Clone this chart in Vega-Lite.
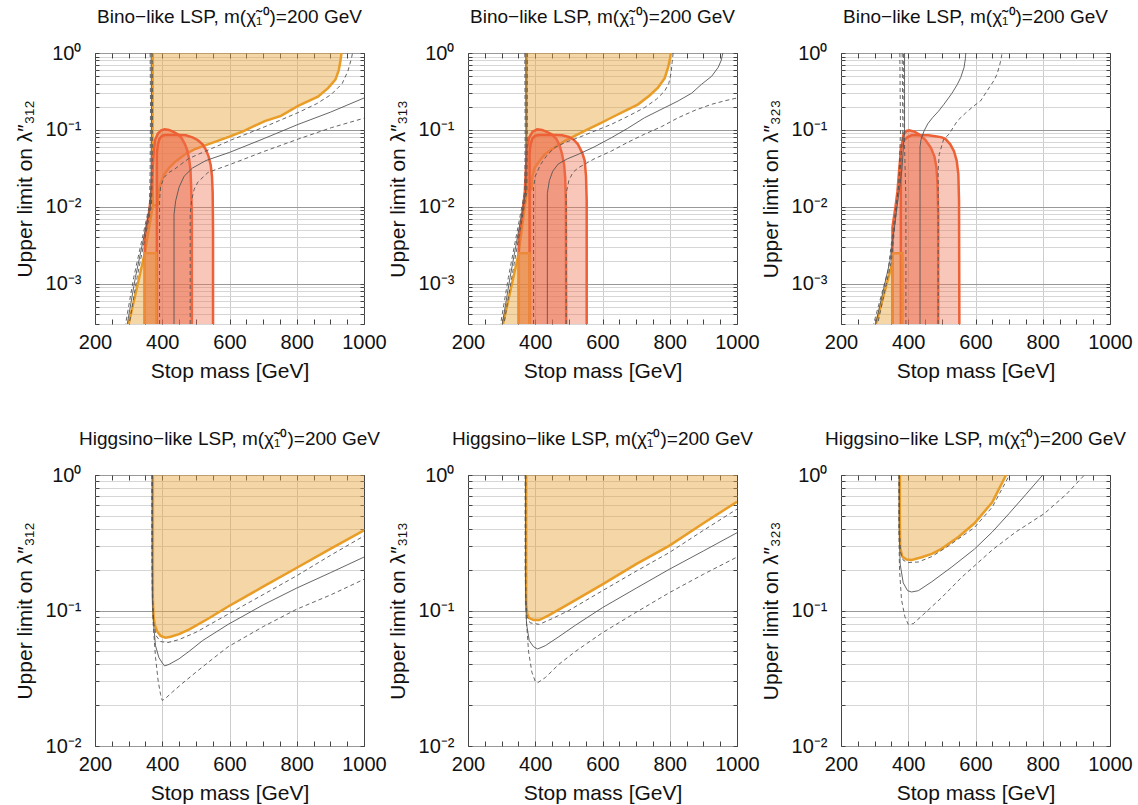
{
"$schema": "https://vega.github.io/schema/vega-lite/v6.json",
"background": "white",
"padding": {"left": 13, "top": 7, "right": 0, "bottom": 0},
"config": {
  "font": "Liberation Sans",
  "view": {"stroke": "#444444", "strokeWidth": 1},
  "axis": {"labelFontSize": 20, "titleFontSize": 21, "titleFontWeight": "normal", "labelColor": "#111111", "titleColor": "#111111", "tickColor": "#444444", "domain": false, "labelOverlap": false, "labelBound": false, "labelFlush": false},
  "title": {"fontSize": 19, "fontWeight": "normal", "color": "#111111", "offset": 16}
},
"datasets": {"d": [
{"p":1,"s":"of","m":372,"l":1},{"p":1,"s":"of","m":371.5,"l":0.3},{"p":1,"s":"of","m":371,"l":0.05},{"p":1,"s":"of","m":372,"l":0.0105},{"p":1,"s":"of","m":348,"l":0.0025},{"p":1,"s":"of","m":300,"l":0.0003},{"p":1,"s":"of","m":386,"l":0.0003},{"p":1,"s":"of","m":386,"l":0.0105},{"p":1,"s":"of","m":388,"l":0.014},{"p":1,"s":"of","m":395,"l":0.02},{"p":1,"s":"of","m":405,"l":0.026},{"p":1,"s":"of","m":420,"l":0.032},{"p":1,"s":"of","m":437,"l":0.038},{"p":1,"s":"of","m":470,"l":0.049},{"p":1,"s":"of","m":500,"l":0.057},{"p":1,"s":"of","m":540,"l":0.066},{"p":1,"s":"of","m":600,"l":0.082},{"p":1,"s":"of","m":640,"l":0.096},{"p":1,"s":"of","m":705,"l":0.13},{"p":1,"s":"of","m":753,"l":0.152},{"p":1,"s":"of","m":804,"l":0.205},{"p":1,"s":"of","m":863,"l":0.27},{"p":1,"s":"of","m":893,"l":0.35},{"p":1,"s":"of","m":915,"l":0.45},{"p":1,"s":"of","m":925,"l":0.6},{"p":1,"s":"of","m":930,"l":0.8},{"p":1,"s":"of","m":933,"l":1},
{"p":1,"s":"ol1","m":372,"l":1},{"p":1,"s":"ol1","m":371.5,"l":0.3},{"p":1,"s":"ol1","m":371,"l":0.05},{"p":1,"s":"ol1","m":372,"l":0.0105},{"p":1,"s":"ol1","m":348,"l":0.0025},{"p":1,"s":"ol1","m":300,"l":0.0003},
{"p":1,"s":"ol2","m":372,"l":0.0105},{"p":1,"s":"ol2","m":386,"l":0.0105},{"p":1,"s":"ol2","m":388,"l":0.014},{"p":1,"s":"ol2","m":395,"l":0.02},{"p":1,"s":"ol2","m":405,"l":0.026},{"p":1,"s":"ol2","m":420,"l":0.032},{"p":1,"s":"ol2","m":437,"l":0.038},{"p":1,"s":"ol2","m":470,"l":0.049},{"p":1,"s":"ol2","m":500,"l":0.057},{"p":1,"s":"ol2","m":540,"l":0.066},{"p":1,"s":"ol2","m":600,"l":0.082},{"p":1,"s":"ol2","m":640,"l":0.096},{"p":1,"s":"ol2","m":705,"l":0.13},{"p":1,"s":"ol2","m":753,"l":0.152},{"p":1,"s":"ol2","m":804,"l":0.205},{"p":1,"s":"ol2","m":863,"l":0.27},{"p":1,"s":"ol2","m":893,"l":0.35},{"p":1,"s":"ol2","m":915,"l":0.45},{"p":1,"s":"ol2","m":925,"l":0.6},{"p":1,"s":"ol2","m":930,"l":0.8},{"p":1,"s":"ol2","m":933,"l":1},
{"p":1,"s":"ra","m":348,"l":0.0003},{"p":1,"s":"ra","m":348,"l":0.004},{"p":1,"s":"ra","m":360,"l":0.008},{"p":1,"s":"ra","m":368,"l":0.016},{"p":1,"s":"ra","m":371,"l":0.03},{"p":1,"s":"ra","m":375,"l":0.055},{"p":1,"s":"ra","m":379,"l":0.075},{"p":1,"s":"ra","m":387,"l":0.09},{"p":1,"s":"ra","m":397,"l":0.099},{"p":1,"s":"ra","m":407,"l":0.102},{"p":1,"s":"ra","m":420,"l":0.1},{"p":1,"s":"ra","m":432,"l":0.095},{"p":1,"s":"ra","m":447,"l":0.087},{"p":1,"s":"ra","m":457,"l":0.079},{"p":1,"s":"ra","m":467,"l":0.066},{"p":1,"s":"ra","m":474,"l":0.055},{"p":1,"s":"ra","m":480,"l":0.042},{"p":1,"s":"ra","m":484,"l":0.03},{"p":1,"s":"ra","m":486,"l":0.018},{"p":1,"s":"ra","m":488,"l":0.008},{"p":1,"s":"ra","m":488,"l":0.0003},
{"p":1,"s":"rb","m":384,"l":0.0003},{"p":1,"s":"rb","m":384,"l":0.05},{"p":1,"s":"rb","m":387,"l":0.065},{"p":1,"s":"rb","m":392,"l":0.077},{"p":1,"s":"rb","m":400,"l":0.084},{"p":1,"s":"rb","m":410,"l":0.086},{"p":1,"s":"rb","m":450,"l":0.086},{"p":1,"s":"rb","m":470,"l":0.085},{"p":1,"s":"rb","m":490,"l":0.08},{"p":1,"s":"rb","m":505,"l":0.074},{"p":1,"s":"rb","m":520,"l":0.065},{"p":1,"s":"rb","m":530,"l":0.055},{"p":1,"s":"rb","m":538,"l":0.045},{"p":1,"s":"rb","m":544,"l":0.035},{"p":1,"s":"rb","m":548,"l":0.025},{"p":1,"s":"rb","m":550,"l":0.015},{"p":1,"s":"rb","m":551,"l":0.005},{"p":1,"s":"rb","m":551,"l":0.0003},
{"p":1,"s":"rr","m":348,"l":0.0003},{"p":1,"s":"rr","m":348,"l":0.0025},{"p":1,"s":"rr","m":382,"l":0.0025},{"p":1,"s":"rr","m":382,"l":0.0003},
{"p":1,"s":"gd1","m":364,"l":1},{"p":1,"s":"gd1","m":365,"l":0.2},{"p":1,"s":"gd1","m":364,"l":0.03},{"p":1,"s":"gd1","m":362,"l":0.0105},{"p":1,"s":"gd1","m":315,"l":0.0012},{"p":1,"s":"gd1","m":291,"l":0.0003},
{"p":1,"s":"gs1","m":367,"l":1},{"p":1,"s":"gs1","m":368,"l":0.2},{"p":1,"s":"gs1","m":367,"l":0.03},{"p":1,"s":"gs1","m":365,"l":0.0105},{"p":1,"s":"gs1","m":320,"l":0.0012},{"p":1,"s":"gs1","m":296,"l":0.0003},
{"p":1,"s":"gd2","m":370,"l":1},{"p":1,"s":"gd2","m":371,"l":0.2},{"p":1,"s":"gd2","m":370,"l":0.03},{"p":1,"s":"gd2","m":368,"l":0.0105},{"p":1,"s":"gd2","m":325,"l":0.0012},{"p":1,"s":"gd2","m":302,"l":0.0003},
{"p":1,"s":"gd3","m":392,"l":0.0003},{"p":1,"s":"gd3","m":392,"l":0.012},{"p":1,"s":"gd3","m":395,"l":0.018},{"p":1,"s":"gd3","m":405,"l":0.024},{"p":1,"s":"gd3","m":420,"l":0.028},{"p":1,"s":"gd3","m":437,"l":0.031},{"p":1,"s":"gd3","m":477,"l":0.042},{"p":1,"s":"gd3","m":506,"l":0.048},{"p":1,"s":"gd3","m":550,"l":0.058},{"p":1,"s":"gd3","m":605,"l":0.074},{"p":1,"s":"gd3","m":705,"l":0.11},{"p":1,"s":"gd3","m":804,"l":0.168},{"p":1,"s":"gd3","m":860,"l":0.22},{"p":1,"s":"gd3","m":903,"l":0.29},{"p":1,"s":"gd3","m":935,"l":0.4},{"p":1,"s":"gd3","m":952,"l":0.58},{"p":1,"s":"gd3","m":962,"l":0.83},{"p":1,"s":"gd3","m":966,"l":1},
{"p":1,"s":"gs2","m":435,"l":0.0003},{"p":1,"s":"gs2","m":435,"l":0.008},{"p":1,"s":"gs2","m":440,"l":0.012},{"p":1,"s":"gs2","m":450,"l":0.018},{"p":1,"s":"gs2","m":465,"l":0.025},{"p":1,"s":"gs2","m":490,"l":0.032},{"p":1,"s":"gs2","m":530,"l":0.04},{"p":1,"s":"gs2","m":600,"l":0.051},{"p":1,"s":"gs2","m":705,"l":0.078},{"p":1,"s":"gs2","m":804,"l":0.118},{"p":1,"s":"gs2","m":900,"l":0.17},{"p":1,"s":"gs2","m":1000,"l":0.26},
{"p":1,"s":"gd4","m":483,"l":0.0003},{"p":1,"s":"gd4","m":483,"l":0.008},{"p":1,"s":"gd4","m":487,"l":0.012},{"p":1,"s":"gd4","m":495,"l":0.017},{"p":1,"s":"gd4","m":506,"l":0.021},{"p":1,"s":"gd4","m":536,"l":0.028},{"p":1,"s":"gd4","m":605,"l":0.036},{"p":1,"s":"gd4","m":705,"l":0.053},{"p":1,"s":"gd4","m":804,"l":0.076},{"p":1,"s":"gd4","m":903,"l":0.107},{"p":1,"s":"gd4","m":1000,"l":0.142},

{"p":2,"s":"of","m":375,"l":1},{"p":2,"s":"of","m":374,"l":0.3},{"p":2,"s":"of","m":374,"l":0.05},{"p":2,"s":"of","m":375,"l":0.016},{"p":2,"s":"of","m":350,"l":0.0024},{"p":2,"s":"of","m":304,"l":0.0003},{"p":2,"s":"of","m":389,"l":0.0003},{"p":2,"s":"of","m":389,"l":0.017},{"p":2,"s":"of","m":390,"l":0.02},{"p":2,"s":"of","m":392,"l":0.025},{"p":2,"s":"of","m":398,"l":0.032},{"p":2,"s":"of","m":410,"l":0.038},{"p":2,"s":"of","m":428,"l":0.048},{"p":2,"s":"of","m":455,"l":0.058},{"p":2,"s":"of","m":488,"l":0.072},{"p":2,"s":"of","m":547,"l":0.097},{"p":2,"s":"of","m":590,"l":0.12},{"p":2,"s":"of","m":626,"l":0.144},{"p":2,"s":"of","m":670,"l":0.18},{"p":2,"s":"of","m":706,"l":0.215},{"p":2,"s":"of","m":740,"l":0.28},{"p":2,"s":"of","m":765,"l":0.355},{"p":2,"s":"of","m":785,"l":0.47},{"p":2,"s":"of","m":795,"l":0.65},{"p":2,"s":"of","m":801,"l":0.85},{"p":2,"s":"of","m":803,"l":1},
{"p":2,"s":"ol1","m":375,"l":1},{"p":2,"s":"ol1","m":374,"l":0.3},{"p":2,"s":"ol1","m":374,"l":0.05},{"p":2,"s":"ol1","m":375,"l":0.016},{"p":2,"s":"ol1","m":350,"l":0.0024},{"p":2,"s":"ol1","m":304,"l":0.0003},
{"p":2,"s":"ol2","m":375,"l":0.016},{"p":2,"s":"ol2","m":389,"l":0.017},{"p":2,"s":"ol2","m":390,"l":0.02},{"p":2,"s":"ol2","m":392,"l":0.025},{"p":2,"s":"ol2","m":398,"l":0.032},{"p":2,"s":"ol2","m":410,"l":0.038},{"p":2,"s":"ol2","m":428,"l":0.048},{"p":2,"s":"ol2","m":455,"l":0.058},{"p":2,"s":"ol2","m":488,"l":0.072},{"p":2,"s":"ol2","m":547,"l":0.097},{"p":2,"s":"ol2","m":590,"l":0.12},{"p":2,"s":"ol2","m":626,"l":0.144},{"p":2,"s":"ol2","m":670,"l":0.18},{"p":2,"s":"ol2","m":706,"l":0.215},{"p":2,"s":"ol2","m":740,"l":0.28},{"p":2,"s":"ol2","m":765,"l":0.355},{"p":2,"s":"ol2","m":785,"l":0.47},{"p":2,"s":"ol2","m":795,"l":0.65},{"p":2,"s":"ol2","m":801,"l":0.85},{"p":2,"s":"ol2","m":803,"l":1},
{"p":2,"s":"ra","m":351,"l":0.0003},{"p":2,"s":"ra","m":351,"l":0.004},{"p":2,"s":"ra","m":362,"l":0.008},{"p":2,"s":"ra","m":369,"l":0.016},{"p":2,"s":"ra","m":372,"l":0.03},{"p":2,"s":"ra","m":376,"l":0.06},{"p":2,"s":"ra","m":382,"l":0.08},{"p":2,"s":"ra","m":392,"l":0.095},{"p":2,"s":"ra","m":406,"l":0.102},{"p":2,"s":"ra","m":420,"l":0.1},{"p":2,"s":"ra","m":433,"l":0.095},{"p":2,"s":"ra","m":450,"l":0.087},{"p":2,"s":"ra","m":463,"l":0.076},{"p":2,"s":"ra","m":473,"l":0.062},{"p":2,"s":"ra","m":480,"l":0.048},{"p":2,"s":"ra","m":486,"l":0.035},{"p":2,"s":"ra","m":489,"l":0.024},{"p":2,"s":"ra","m":491,"l":0.012},{"p":2,"s":"ra","m":492,"l":0.0003},
{"p":2,"s":"rb","m":383,"l":0.0003},{"p":2,"s":"rb","m":383,"l":0.05},{"p":2,"s":"rb","m":386,"l":0.065},{"p":2,"s":"rb","m":392,"l":0.078},{"p":2,"s":"rb","m":400,"l":0.084},{"p":2,"s":"rb","m":412,"l":0.086},{"p":2,"s":"rb","m":460,"l":0.086},{"p":2,"s":"rb","m":480,"l":0.085},{"p":2,"s":"rb","m":500,"l":0.081},{"p":2,"s":"rb","m":515,"l":0.074},{"p":2,"s":"rb","m":527,"l":0.065},{"p":2,"s":"rb","m":540,"l":0.05},{"p":2,"s":"rb","m":547,"l":0.04},{"p":2,"s":"rb","m":551,"l":0.025},{"p":2,"s":"rb","m":553,"l":0.012},{"p":2,"s":"rb","m":553,"l":0.0003},
{"p":2,"s":"rr","m":351,"l":0.0003},{"p":2,"s":"rr","m":351,"l":0.0025},{"p":2,"s":"rr","m":383,"l":0.0025},{"p":2,"s":"rr","m":383,"l":0.0003},
{"p":2,"s":"gd1","m":369,"l":1},{"p":2,"s":"gd1","m":370,"l":0.1},{"p":2,"s":"gd1","m":369,"l":0.016},{"p":2,"s":"gd1","m":320,"l":0.0012},{"p":2,"s":"gd1","m":297,"l":0.0003},
{"p":2,"s":"gs1","m":372,"l":1},{"p":2,"s":"gs1","m":373,"l":0.1},{"p":2,"s":"gs1","m":372,"l":0.016},{"p":2,"s":"gs1","m":325,"l":0.0012},{"p":2,"s":"gs1","m":302,"l":0.0003},
{"p":2,"s":"gd2","m":376,"l":1},{"p":2,"s":"gd2","m":376,"l":0.1},{"p":2,"s":"gd2","m":375,"l":0.016},{"p":2,"s":"gd2","m":330,"l":0.0012},{"p":2,"s":"gd2","m":307,"l":0.0003},
{"p":2,"s":"gd3","m":395,"l":0.0003},{"p":2,"s":"gd3","m":395,"l":0.0178},{"p":2,"s":"gd3","m":400,"l":0.025},{"p":2,"s":"gd3","m":415,"l":0.035},{"p":2,"s":"gd3","m":435,"l":0.047},{"p":2,"s":"gd3","m":458,"l":0.059},{"p":2,"s":"gd3","m":490,"l":0.069},{"p":2,"s":"gd3","m":527,"l":0.079},{"p":2,"s":"gd3","m":575,"l":0.096},{"p":2,"s":"gd3","m":626,"l":0.118},{"p":2,"s":"gd3","m":675,"l":0.15},{"p":2,"s":"gd3","m":725,"l":0.195},{"p":2,"s":"gd3","m":760,"l":0.25},{"p":2,"s":"gd3","m":785,"l":0.32},{"p":2,"s":"gd3","m":797,"l":0.4},{"p":2,"s":"gd3","m":804,"l":0.55},{"p":2,"s":"gd3","m":807,"l":0.75},{"p":2,"s":"gd3","m":810,"l":1},
{"p":2,"s":"gs2","m":436,"l":0.0003},{"p":2,"s":"gs2","m":436,"l":0.015},{"p":2,"s":"gs2","m":442,"l":0.022},{"p":2,"s":"gs2","m":452,"l":0.029},{"p":2,"s":"gs2","m":468,"l":0.036},{"p":2,"s":"gs2","m":495,"l":0.042},{"p":2,"s":"gs2","m":527,"l":0.048},{"p":2,"s":"gs2","m":575,"l":0.06},{"p":2,"s":"gs2","m":626,"l":0.079},{"p":2,"s":"gs2","m":675,"l":0.105},{"p":2,"s":"gs2","m":725,"l":0.144},{"p":2,"s":"gs2","m":780,"l":0.19},{"p":2,"s":"gs2","m":825,"l":0.238},{"p":2,"s":"gs2","m":865,"l":0.3},{"p":2,"s":"gs2","m":894,"l":0.39},{"p":2,"s":"gs2","m":925,"l":0.5},{"p":2,"s":"gs2","m":944,"l":0.65},{"p":2,"s":"gs2","m":953,"l":0.8},{"p":2,"s":"gs2","m":958,"l":1},
{"p":2,"s":"gd4","m":492,"l":0.0003},{"p":2,"s":"gd4","m":492,"l":0.015},{"p":2,"s":"gd4","m":500,"l":0.022},{"p":2,"s":"gd4","m":512,"l":0.028},{"p":2,"s":"gd4","m":527,"l":0.032},{"p":2,"s":"gd4","m":575,"l":0.042},{"p":2,"s":"gd4","m":626,"l":0.053},{"p":2,"s":"gd4","m":675,"l":0.069},{"p":2,"s":"gd4","m":725,"l":0.088},{"p":2,"s":"gd4","m":775,"l":0.11},{"p":2,"s":"gd4","m":825,"l":0.144},{"p":2,"s":"gd4","m":875,"l":0.18},{"p":2,"s":"gd4","m":924,"l":0.215},{"p":2,"s":"gd4","m":965,"l":0.24},{"p":2,"s":"gd4","m":1000,"l":0.26},

{"p":3,"s":"of","m":304,"l":0.0003},{"p":3,"s":"of","m":353,"l":0.0019},{"p":3,"s":"of","m":353,"l":0.0003},
{"p":3,"s":"ol1","m":304,"l":0.0003},{"p":3,"s":"ol1","m":353,"l":0.0019},
{"p":3,"s":"ra","m":353,"l":0.0003},{"p":3,"s":"ra","m":353,"l":0.0054},{"p":3,"s":"ra","m":362,"l":0.01},{"p":3,"s":"ra","m":368,"l":0.016},{"p":3,"s":"ra","m":373,"l":0.03},{"p":3,"s":"ra","m":378,"l":0.053},{"p":3,"s":"ra","m":386,"l":0.088},{"p":3,"s":"ra","m":395,"l":0.097},{"p":3,"s":"ra","m":403,"l":0.099},{"p":3,"s":"ra","m":418,"l":0.095},{"p":3,"s":"ra","m":432,"l":0.088},{"p":3,"s":"ra","m":450,"l":0.075},{"p":3,"s":"ra","m":467,"l":0.059},{"p":3,"s":"ra","m":478,"l":0.045},{"p":3,"s":"ra","m":484,"l":0.032},{"p":3,"s":"ra","m":487,"l":0.02},{"p":3,"s":"ra","m":489,"l":0.008},{"p":3,"s":"ra","m":489,"l":0.0003},
{"p":3,"s":"rb","m":378,"l":0.0003},{"p":3,"s":"rb","m":378,"l":0.059},{"p":3,"s":"rb","m":385,"l":0.072},{"p":3,"s":"rb","m":398,"l":0.081},{"p":3,"s":"rb","m":410,"l":0.085},{"p":3,"s":"rb","m":460,"l":0.085},{"p":3,"s":"rb","m":485,"l":0.082},{"p":3,"s":"rb","m":500,"l":0.08},{"p":3,"s":"rb","m":511,"l":0.076},{"p":3,"s":"rb","m":525,"l":0.065},{"p":3,"s":"rb","m":536,"l":0.053},{"p":3,"s":"rb","m":544,"l":0.04},{"p":3,"s":"rb","m":549,"l":0.0266},{"p":3,"s":"rb","m":551,"l":0.012},{"p":3,"s":"rb","m":552,"l":0.0003},
{"p":3,"s":"rr","m":353,"l":0.0003},{"p":3,"s":"rr","m":353,"l":0.0025},{"p":3,"s":"rr","m":383,"l":0.0025},{"p":3,"s":"rr","m":383,"l":0.0003},
{"p":3,"s":"gd1","m":375,"l":1},{"p":3,"s":"gd1","m":376,"l":0.3},{"p":3,"s":"gd1","m":377,"l":0.1},{"p":3,"s":"gd1","m":372,"l":0.02},{"p":3,"s":"gd1","m":340,"l":0.0015},{"p":3,"s":"gd1","m":297,"l":0.0003},
{"p":3,"s":"gs1","m":389,"l":1},{"p":3,"s":"gs1","m":389,"l":0.3},{"p":3,"s":"gs1","m":389,"l":0.1},{"p":3,"s":"gs1","m":381,"l":0.03},{"p":3,"s":"gs1","m":346,"l":0.002},{"p":3,"s":"gs1","m":303,"l":0.0003},
{"p":3,"s":"gd2","m":382,"l":1},{"p":3,"s":"gd2","m":383,"l":0.3},{"p":3,"s":"gd2","m":384,"l":0.1},{"p":3,"s":"gd2","m":376,"l":0.03},{"p":3,"s":"gd2","m":350,"l":0.002},{"p":3,"s":"gd2","m":309,"l":0.0003},
{"p":3,"s":"gd3","m":393,"l":0.0003},{"p":3,"s":"gd3","m":393,"l":0.013},{"p":3,"s":"gd3","m":390,"l":0.04},{"p":3,"s":"gd3","m":388,"l":0.1},{"p":3,"s":"gd3","m":387,"l":0.3},{"p":3,"s":"gd3","m":386,"l":1},
{"p":3,"s":"gs2","m":435,"l":0.0003},{"p":3,"s":"gs2","m":435,"l":0.06},{"p":3,"s":"gs2","m":438,"l":0.075},{"p":3,"s":"gs2","m":447,"l":0.097},{"p":3,"s":"gs2","m":458,"l":0.12},{"p":3,"s":"gs2","m":472,"l":0.144},{"p":3,"s":"gs2","m":490,"l":0.175},{"p":3,"s":"gs2","m":506,"l":0.215},{"p":3,"s":"gs2","m":530,"l":0.3},{"p":3,"s":"gs2","m":546,"l":0.39},{"p":3,"s":"gs2","m":556,"l":0.48},{"p":3,"s":"gs2","m":566,"l":0.65},{"p":3,"s":"gs2","m":570,"l":0.85},{"p":3,"s":"gs2","m":571,"l":1},
{"p":3,"s":"gd4","m":489,"l":0.0003},{"p":3,"s":"gd4","m":489,"l":0.03},{"p":3,"s":"gd4","m":492,"l":0.048},{"p":3,"s":"gd4","m":505,"l":0.075},{"p":3,"s":"gd4","m":521,"l":0.088},{"p":3,"s":"gd4","m":546,"l":0.131},{"p":3,"s":"gd4","m":570,"l":0.165},{"p":3,"s":"gd4","m":595,"l":0.205},{"p":3,"s":"gd4","m":615,"l":0.238},{"p":3,"s":"gd4","m":640,"l":0.35},{"p":3,"s":"gd4","m":655,"l":0.44},{"p":3,"s":"gd4","m":664,"l":0.53},{"p":3,"s":"gd4","m":672,"l":0.7},{"p":3,"s":"gd4","m":676,"l":0.83},{"p":3,"s":"gd4","m":679,"l":1},

{"p":4,"s":"of","m":372,"l":1},{"p":4,"s":"of","m":372,"l":0.3},{"p":4,"s":"of","m":372,"l":0.124},{"p":4,"s":"of","m":374,"l":0.09},{"p":4,"s":"of","m":378,"l":0.078},{"p":4,"s":"of","m":385,"l":0.07},{"p":4,"s":"of","m":395,"l":0.065},{"p":4,"s":"of","m":410,"l":0.063},{"p":4,"s":"of","m":425,"l":0.064},{"p":4,"s":"of","m":450,"l":0.067},{"p":4,"s":"of","m":482,"l":0.073},{"p":4,"s":"of","m":540,"l":0.088},{"p":4,"s":"of","m":596,"l":0.107},{"p":4,"s":"of","m":700,"l":0.15},{"p":4,"s":"of","m":799,"l":0.206},{"p":4,"s":"of","m":900,"l":0.285},{"p":4,"s":"of","m":1000,"l":0.39},{"p":4,"s":"of","m":1000,"l":1},
{"p":4,"s":"ol2","m":372,"l":1},{"p":4,"s":"ol2","m":372,"l":0.3},{"p":4,"s":"ol2","m":372,"l":0.124},{"p":4,"s":"ol2","m":374,"l":0.09},{"p":4,"s":"ol2","m":378,"l":0.078},{"p":4,"s":"ol2","m":385,"l":0.07},{"p":4,"s":"ol2","m":395,"l":0.065},{"p":4,"s":"ol2","m":410,"l":0.063},{"p":4,"s":"ol2","m":425,"l":0.064},{"p":4,"s":"ol2","m":450,"l":0.067},{"p":4,"s":"ol2","m":482,"l":0.073},{"p":4,"s":"ol2","m":540,"l":0.088},{"p":4,"s":"ol2","m":596,"l":0.107},{"p":4,"s":"ol2","m":700,"l":0.15},{"p":4,"s":"ol2","m":799,"l":0.206},{"p":4,"s":"ol2","m":900,"l":0.285},{"p":4,"s":"ol2","m":1000,"l":0.39},
{"p":4,"s":"gd3","m":371,"l":1},{"p":4,"s":"gd3","m":371,"l":0.2},{"p":4,"s":"gd3","m":372,"l":0.11},{"p":4,"s":"gd3","m":375,"l":0.08},{"p":4,"s":"gd3","m":382,"l":0.065},{"p":4,"s":"gd3","m":395,"l":0.059},{"p":4,"s":"gd3","m":417,"l":0.058},{"p":4,"s":"gd3","m":450,"l":0.061},{"p":4,"s":"gd3","m":500,"l":0.069},{"p":4,"s":"gd3","m":596,"l":0.094},{"p":4,"s":"gd3","m":700,"l":0.131},{"p":4,"s":"gd3","m":799,"l":0.18},{"p":4,"s":"gd3","m":900,"l":0.255},{"p":4,"s":"gd3","m":1000,"l":0.355},
{"p":4,"s":"gs2","m":370,"l":1},{"p":4,"s":"gs2","m":370,"l":0.3},{"p":4,"s":"gs2","m":371,"l":0.12},{"p":4,"s":"gs2","m":374,"l":0.08},{"p":4,"s":"gs2","m":380,"l":0.055},{"p":4,"s":"gs2","m":390,"l":0.045},{"p":4,"s":"gs2","m":400,"l":0.041},{"p":4,"s":"gs2","m":407,"l":0.039},{"p":4,"s":"gs2","m":420,"l":0.04},{"p":4,"s":"gs2","m":450,"l":0.044},{"p":4,"s":"gs2","m":480,"l":0.05},{"p":4,"s":"gs2","m":520,"l":0.06},{"p":4,"s":"gs2","m":596,"l":0.079},{"p":4,"s":"gs2","m":700,"l":0.11},{"p":4,"s":"gs2","m":799,"l":0.146},{"p":4,"s":"gs2","m":900,"l":0.19},{"p":4,"s":"gs2","m":1000,"l":0.248},
{"p":4,"s":"gd4","m":369,"l":1},{"p":4,"s":"gd4","m":369,"l":0.3},{"p":4,"s":"gd4","m":370,"l":0.15},{"p":4,"s":"gd4","m":373,"l":0.08},{"p":4,"s":"gd4","m":380,"l":0.045},{"p":4,"s":"gd4","m":388,"l":0.03},{"p":4,"s":"gd4","m":395,"l":0.024},{"p":4,"s":"gd4","m":400,"l":0.0217},{"p":4,"s":"gd4","m":410,"l":0.0225},{"p":4,"s":"gd4","m":430,"l":0.025},{"p":4,"s":"gd4","m":460,"l":0.029},{"p":4,"s":"gd4","m":500,"l":0.035},{"p":4,"s":"gd4","m":550,"l":0.044},{"p":4,"s":"gd4","m":596,"l":0.054},{"p":4,"s":"gd4","m":700,"l":0.076},{"p":4,"s":"gd4","m":799,"l":0.102},{"p":4,"s":"gd4","m":900,"l":0.13},{"p":4,"s":"gd4","m":1000,"l":0.17},

{"p":5,"s":"of","m":373,"l":1},{"p":5,"s":"of","m":373,"l":0.3},{"p":5,"s":"of","m":373,"l":0.111},{"p":5,"s":"of","m":376,"l":0.095},{"p":5,"s":"of","m":382,"l":0.088},{"p":5,"s":"of","m":395,"l":0.085},{"p":5,"s":"of","m":412,"l":0.085},{"p":5,"s":"of","m":440,"l":0.092},{"p":5,"s":"of","m":500,"l":0.112},{"p":5,"s":"of","m":600,"l":0.156},{"p":5,"s":"of","m":700,"l":0.22},{"p":5,"s":"of","m":798,"l":0.3},{"p":5,"s":"of","m":900,"l":0.44},{"p":5,"s":"of","m":1000,"l":0.635},{"p":5,"s":"of","m":1000,"l":1},
{"p":5,"s":"ol2","m":373,"l":1},{"p":5,"s":"ol2","m":373,"l":0.3},{"p":5,"s":"ol2","m":373,"l":0.111},{"p":5,"s":"ol2","m":376,"l":0.095},{"p":5,"s":"ol2","m":382,"l":0.088},{"p":5,"s":"ol2","m":395,"l":0.085},{"p":5,"s":"ol2","m":412,"l":0.085},{"p":5,"s":"ol2","m":440,"l":0.092},{"p":5,"s":"ol2","m":500,"l":0.112},{"p":5,"s":"ol2","m":600,"l":0.156},{"p":5,"s":"ol2","m":700,"l":0.22},{"p":5,"s":"ol2","m":798,"l":0.3},{"p":5,"s":"ol2","m":900,"l":0.44},{"p":5,"s":"ol2","m":1000,"l":0.635},
{"p":5,"s":"gd3","m":372,"l":1},{"p":5,"s":"gd3","m":372,"l":0.12},{"p":5,"s":"gd3","m":376,"l":0.09},{"p":5,"s":"gd3","m":385,"l":0.081},{"p":5,"s":"gd3","m":412,"l":0.079},{"p":5,"s":"gd3","m":450,"l":0.087},{"p":5,"s":"gd3","m":500,"l":0.1},{"p":5,"s":"gd3","m":600,"l":0.14},{"p":5,"s":"gd3","m":700,"l":0.195},{"p":5,"s":"gd3","m":798,"l":0.267},{"p":5,"s":"gd3","m":900,"l":0.39},{"p":5,"s":"gd3","m":1000,"l":0.56},
{"p":5,"s":"gs2","m":371,"l":1},{"p":5,"s":"gs2","m":371,"l":0.15},{"p":5,"s":"gs2","m":374,"l":0.08},{"p":5,"s":"gs2","m":382,"l":0.06},{"p":5,"s":"gs2","m":395,"l":0.054},{"p":5,"s":"gs2","m":407,"l":0.052},{"p":5,"s":"gs2","m":430,"l":0.055},{"p":5,"s":"gs2","m":470,"l":0.064},{"p":5,"s":"gs2","m":520,"l":0.078},{"p":5,"s":"gs2","m":600,"l":0.105},{"p":5,"s":"gs2","m":700,"l":0.146},{"p":5,"s":"gs2","m":798,"l":0.201},{"p":5,"s":"gs2","m":900,"l":0.275},{"p":5,"s":"gs2","m":1000,"l":0.375},
{"p":5,"s":"gd4","m":370,"l":1},{"p":5,"s":"gd4","m":370,"l":0.2},{"p":5,"s":"gd4","m":373,"l":0.09},{"p":5,"s":"gd4","m":380,"l":0.05},{"p":5,"s":"gd4","m":390,"l":0.035},{"p":5,"s":"gd4","m":400,"l":0.03},{"p":5,"s":"gd4","m":407,"l":0.0293},{"p":5,"s":"gd4","m":430,"l":0.032},{"p":5,"s":"gd4","m":470,"l":0.04},{"p":5,"s":"gd4","m":520,"l":0.05},{"p":5,"s":"gd4","m":600,"l":0.0686},{"p":5,"s":"gd4","m":700,"l":0.097},{"p":5,"s":"gd4","m":798,"l":0.135},{"p":5,"s":"gd4","m":900,"l":0.185},{"p":5,"s":"gd4","m":1000,"l":0.248},

{"p":6,"s":"of","m":375,"l":1},{"p":6,"s":"of","m":375,"l":0.5},{"p":6,"s":"of","m":376,"l":0.29},{"p":6,"s":"of","m":382,"l":0.25},{"p":6,"s":"of","m":395,"l":0.238},{"p":6,"s":"of","m":410,"l":0.236},{"p":6,"s":"of","m":440,"l":0.247},{"p":6,"s":"of","m":470,"l":0.262},{"p":6,"s":"of","m":499,"l":0.285},{"p":6,"s":"of","m":550,"l":0.35},{"p":6,"s":"of","m":597,"l":0.44},{"p":6,"s":"of","m":650,"l":0.63},{"p":6,"s":"of","m":691,"l":1},
{"p":6,"s":"ol2","m":375,"l":1},{"p":6,"s":"ol2","m":375,"l":0.5},{"p":6,"s":"ol2","m":376,"l":0.29},{"p":6,"s":"ol2","m":382,"l":0.25},{"p":6,"s":"ol2","m":395,"l":0.238},{"p":6,"s":"ol2","m":410,"l":0.236},{"p":6,"s":"ol2","m":440,"l":0.247},{"p":6,"s":"ol2","m":470,"l":0.262},{"p":6,"s":"ol2","m":499,"l":0.285},{"p":6,"s":"ol2","m":550,"l":0.35},{"p":6,"s":"ol2","m":597,"l":0.44},{"p":6,"s":"ol2","m":650,"l":0.63},{"p":6,"s":"ol2","m":691,"l":1},
{"p":6,"s":"gd3","m":374,"l":1},{"p":6,"s":"gd3","m":374,"l":0.4},{"p":6,"s":"gd3","m":377,"l":0.27},{"p":6,"s":"gd3","m":385,"l":0.235},{"p":6,"s":"gd3","m":400,"l":0.226},{"p":6,"s":"gd3","m":430,"l":0.228},{"p":6,"s":"gd3","m":470,"l":0.25},{"p":6,"s":"gd3","m":520,"l":0.3},{"p":6,"s":"gd3","m":597,"l":0.41},{"p":6,"s":"gd3","m":650,"l":0.58},{"p":6,"s":"gd3","m":701,"l":1},
{"p":6,"s":"gs2","m":373,"l":1},{"p":6,"s":"gs2","m":373,"l":0.4},{"p":6,"s":"gs2","m":376,"l":0.22},{"p":6,"s":"gs2","m":385,"l":0.16},{"p":6,"s":"gs2","m":398,"l":0.14},{"p":6,"s":"gs2","m":410,"l":0.137},{"p":6,"s":"gs2","m":430,"l":0.14},{"p":6,"s":"gs2","m":470,"l":0.163},{"p":6,"s":"gs2","m":530,"l":0.21},{"p":6,"s":"gs2","m":597,"l":0.284},{"p":6,"s":"gs2","m":650,"l":0.38},{"p":6,"s":"gs2","m":700,"l":0.52},{"p":6,"s":"gs2","m":750,"l":0.72},{"p":6,"s":"gs2","m":800,"l":1},
{"p":6,"s":"gd4","m":372,"l":1},{"p":6,"s":"gd4","m":372,"l":0.4},{"p":6,"s":"gd4","m":374,"l":0.2},{"p":6,"s":"gd4","m":380,"l":0.12},{"p":6,"s":"gd4","m":390,"l":0.09},{"p":6,"s":"gd4","m":400,"l":0.079},{"p":6,"s":"gd4","m":415,"l":0.08},{"p":6,"s":"gd4","m":450,"l":0.096},{"p":6,"s":"gd4","m":500,"l":0.125},{"p":6,"s":"gd4","m":558,"l":0.175},{"p":6,"s":"gd4","m":650,"l":0.28},{"p":6,"s":"gd4","m":720,"l":0.38},{"p":6,"s":"gd4","m":805,"l":0.52},{"p":6,"s":"gd4","m":870,"l":0.72},{"p":6,"s":"gd4","m":924,"l":1}
]},
"data": {"name": "d"},
"columns": 3,
"spacing": {"row": 151, "column": 104},
"bounds": "flush",
"concat": [
{"title": "Bino−like LSP, m(χ̃₁⁰)=200 GeV", "width": 269, "height": 271,
 "transform": [{"filter": "datum.p==1"}],
 "resolve": {"axis": {"x": "independent", "y": "independent"}},
 "layer": [
  {"transform": [{"filter": "datum.s=='of'"}], "mark": {"type": "line", "fill": "#e9a53a", "fillOpacity": 0.45, "strokeOpacity": 0, "clip": true},
   "encoding": {"x": {"field": "m", "type": "quantitative", "scale": {"domain": [200, 1000], "nice": false}, "axis": {"orient": "bottom", "values": [200,250,300,350,400,450,500,550,600,650,700,750,800,850,900,950,1000], "format": "d", "labelExpr": "datum.value%200==0?datum.label:''", "title": "Stop mass [GeV]", "grid": true, "gridColor": "#cccccc", "gridOpacity": {"condition": {"test": "datum.value==400||datum.value==600||datum.value==800", "value": 1}, "value": 0}, "tickSize": -5, "labelPadding": 13, "titlePadding": 8}},
    "y": {"field": "l", "type": "quantitative", "scale": {"type": "log", "domain": [0.0003, 1], "nice": false}, "axis": {"orient": "left", "values": [0.0003,0.0004,0.0005,0.0006,0.0007,0.0008,0.0009,0.001,0.002,0.003,0.004,0.005,0.006,0.007,0.008,0.009,0.01,0.02,0.03,0.04,0.05,0.06,0.07,0.08,0.09,0.1,0.2,0.3,0.4,0.5,0.6,0.7,0.8,0.9,1], "labelExpr": "datum.value==1?'10⁰':datum.value==0.1?'10⁻¹':datum.value==0.01?'10⁻²':datum.value==0.001?'10⁻³':''", "title": "Upper limit on λ″₃₁₂", "grid": true, "gridColor": {"condition": {"test": "datum.value==1||datum.value==0.1||datum.value==0.01||datum.value==0.001", "value": "#999999"}, "value": "#d6d6d6"}, "tickSize": -4, "labelPadding": 18, "titlePadding": 10}},
    "order": {"value": null}}},
  {"transform": [{"filter": "indexof(datum.s,'ol')==0"}], "mark": {"type": "line", "stroke": "#e99c26", "strokeWidth": 2.5, "clip": true},
   "encoding": {"x": {"field": "m", "type": "quantitative", "axis": null}, "y": {"field": "l", "type": "quantitative", "axis": null}, "detail": {"field": "s"}, "order": {"value": null}}},
  {"transform": [{"filter": "datum.s=='ra'"}], "mark": {"type": "line", "fill": "#ea6a44", "fillOpacity": 0.5, "stroke": "#ee6035", "strokeWidth": 2.5, "clip": true},
   "encoding": {"x": {"field": "m", "type": "quantitative", "axis": null}, "y": {"field": "l", "type": "quantitative", "axis": null}, "order": {"value": null}}},
  {"transform": [{"filter": "datum.s=='rb'"}], "mark": {"type": "line", "fill": "#ef7452", "fillOpacity": 0.4, "stroke": "#ee6035", "strokeWidth": 2.5, "clip": true},
   "encoding": {"x": {"field": "m", "type": "quantitative", "axis": null}, "y": {"field": "l", "type": "quantitative", "axis": null}, "order": {"value": null}}},
  {"transform": [{"filter": "datum.s=='rr'"}], "mark": {"type": "line", "fill": "#e8903a", "fillOpacity": 0.35, "stroke": "#ec8a3a", "strokeWidth": 2.5, "clip": true},
   "encoding": {"x": {"field": "m", "type": "quantitative", "axis": null}, "y": {"field": "l", "type": "quantitative", "axis": null}, "order": {"value": null}}},
  {"transform": [{"filter": "indexof(datum.s,'gd')==0"}], "mark": {"type": "line", "stroke": "#555555", "strokeWidth": 0.9, "strokeDash": [4, 3], "clip": true},
   "encoding": {"x": {"field": "m", "type": "quantitative", "axis": null}, "y": {"field": "l", "type": "quantitative", "axis": null}, "detail": {"field": "s"}, "order": {"value": null}}},
  {"transform": [{"filter": "indexof(datum.s,'gs')==0"}], "mark": {"type": "line", "stroke": "#555555", "strokeWidth": 0.9, "clip": true},
   "encoding": {"x": {"field": "m", "type": "quantitative", "axis": {"orient": "top", "values": [200,250,300,350,400,450,500,550,600,650,700,750,800,850,900,950,1000], "labels": false, "title": null, "grid": false, "tickSize": -5}},
    "y": {"field": "l", "type": "quantitative", "axis": {"orient": "right", "values": [0.0003,0.0004,0.0005,0.0006,0.0007,0.0008,0.0009,0.001,0.002,0.003,0.004,0.005,0.006,0.007,0.008,0.009,0.01,0.02,0.03,0.04,0.05,0.06,0.07,0.08,0.09,0.1,0.2,0.3,0.4,0.5,0.6,0.7,0.8,0.9,1], "labels": false, "title": null, "grid": false, "tickSize": -4}},
    "detail": {"field": "s"}, "order": {"value": null}}}
 ]},
{"title": "Bino−like LSP, m(χ̃₁⁰)=200 GeV", "width": 269, "height": 271,
 "transform": [{"filter": "datum.p==2"}],
 "resolve": {"axis": {"x": "independent", "y": "independent"}},
 "layer": [
  {"transform": [{"filter": "datum.s=='of'"}], "mark": {"type": "line", "fill": "#e9a53a", "fillOpacity": 0.45, "strokeOpacity": 0, "clip": true},
   "encoding": {"x": {"field": "m", "type": "quantitative", "scale": {"domain": [200, 1000], "nice": false}, "axis": {"orient": "bottom", "values": [200,250,300,350,400,450,500,550,600,650,700,750,800,850,900,950,1000], "format": "d", "labelExpr": "datum.value%200==0?datum.label:''", "title": "Stop mass [GeV]", "grid": true, "gridColor": "#cccccc", "gridOpacity": {"condition": {"test": "datum.value==400||datum.value==600||datum.value==800", "value": 1}, "value": 0}, "tickSize": -5, "labelPadding": 13, "titlePadding": 8}},
    "y": {"field": "l", "type": "quantitative", "scale": {"type": "log", "domain": [0.0003, 1], "nice": false}, "axis": {"orient": "left", "values": [0.0003,0.0004,0.0005,0.0006,0.0007,0.0008,0.0009,0.001,0.002,0.003,0.004,0.005,0.006,0.007,0.008,0.009,0.01,0.02,0.03,0.04,0.05,0.06,0.07,0.08,0.09,0.1,0.2,0.3,0.4,0.5,0.6,0.7,0.8,0.9,1], "labelExpr": "datum.value==1?'10⁰':datum.value==0.1?'10⁻¹':datum.value==0.01?'10⁻²':datum.value==0.001?'10⁻³':''", "title": "Upper limit on λ″₃₁₃", "grid": true, "gridColor": {"condition": {"test": "datum.value==1||datum.value==0.1||datum.value==0.01||datum.value==0.001", "value": "#999999"}, "value": "#d6d6d6"}, "tickSize": -4, "labelPadding": 18, "titlePadding": 10}},
    "order": {"value": null}}},
  {"transform": [{"filter": "indexof(datum.s,'ol')==0"}], "mark": {"type": "line", "stroke": "#e99c26", "strokeWidth": 2.5, "clip": true},
   "encoding": {"x": {"field": "m", "type": "quantitative", "axis": null}, "y": {"field": "l", "type": "quantitative", "axis": null}, "detail": {"field": "s"}, "order": {"value": null}}},
  {"transform": [{"filter": "datum.s=='ra'"}], "mark": {"type": "line", "fill": "#ea6a44", "fillOpacity": 0.5, "stroke": "#ee6035", "strokeWidth": 2.5, "clip": true},
   "encoding": {"x": {"field": "m", "type": "quantitative", "axis": null}, "y": {"field": "l", "type": "quantitative", "axis": null}, "order": {"value": null}}},
  {"transform": [{"filter": "datum.s=='rb'"}], "mark": {"type": "line", "fill": "#ef7452", "fillOpacity": 0.4, "stroke": "#ee6035", "strokeWidth": 2.5, "clip": true},
   "encoding": {"x": {"field": "m", "type": "quantitative", "axis": null}, "y": {"field": "l", "type": "quantitative", "axis": null}, "order": {"value": null}}},
  {"transform": [{"filter": "datum.s=='rr'"}], "mark": {"type": "line", "fill": "#e8903a", "fillOpacity": 0.35, "stroke": "#ec8a3a", "strokeWidth": 2.5, "clip": true},
   "encoding": {"x": {"field": "m", "type": "quantitative", "axis": null}, "y": {"field": "l", "type": "quantitative", "axis": null}, "order": {"value": null}}},
  {"transform": [{"filter": "indexof(datum.s,'gd')==0"}], "mark": {"type": "line", "stroke": "#555555", "strokeWidth": 0.9, "strokeDash": [4, 3], "clip": true},
   "encoding": {"x": {"field": "m", "type": "quantitative", "axis": null}, "y": {"field": "l", "type": "quantitative", "axis": null}, "detail": {"field": "s"}, "order": {"value": null}}},
  {"transform": [{"filter": "indexof(datum.s,'gs')==0"}], "mark": {"type": "line", "stroke": "#555555", "strokeWidth": 0.9, "clip": true},
   "encoding": {"x": {"field": "m", "type": "quantitative", "axis": {"orient": "top", "values": [200,250,300,350,400,450,500,550,600,650,700,750,800,850,900,950,1000], "labels": false, "title": null, "grid": false, "tickSize": -5}},
    "y": {"field": "l", "type": "quantitative", "axis": {"orient": "right", "values": [0.0003,0.0004,0.0005,0.0006,0.0007,0.0008,0.0009,0.001,0.002,0.003,0.004,0.005,0.006,0.007,0.008,0.009,0.01,0.02,0.03,0.04,0.05,0.06,0.07,0.08,0.09,0.1,0.2,0.3,0.4,0.5,0.6,0.7,0.8,0.9,1], "labels": false, "title": null, "grid": false, "tickSize": -4}},
    "detail": {"field": "s"}, "order": {"value": null}}}
 ]},
{"title": "Bino−like LSP, m(χ̃₁⁰)=200 GeV", "width": 269, "height": 271,
 "transform": [{"filter": "datum.p==3"}],
 "resolve": {"axis": {"x": "independent", "y": "independent"}},
 "layer": [
  {"transform": [{"filter": "datum.s=='of'"}], "mark": {"type": "line", "fill": "#e9a53a", "fillOpacity": 0.45, "strokeOpacity": 0, "clip": true},
   "encoding": {"x": {"field": "m", "type": "quantitative", "scale": {"domain": [200, 1000], "nice": false}, "axis": {"orient": "bottom", "values": [200,250,300,350,400,450,500,550,600,650,700,750,800,850,900,950,1000], "format": "d", "labelExpr": "datum.value%200==0?datum.label:''", "title": "Stop mass [GeV]", "grid": true, "gridColor": "#cccccc", "gridOpacity": {"condition": {"test": "datum.value==400||datum.value==600||datum.value==800", "value": 1}, "value": 0}, "tickSize": -5, "labelPadding": 13, "titlePadding": 8}},
    "y": {"field": "l", "type": "quantitative", "scale": {"type": "log", "domain": [0.0003, 1], "nice": false}, "axis": {"orient": "left", "values": [0.0003,0.0004,0.0005,0.0006,0.0007,0.0008,0.0009,0.001,0.002,0.003,0.004,0.005,0.006,0.007,0.008,0.009,0.01,0.02,0.03,0.04,0.05,0.06,0.07,0.08,0.09,0.1,0.2,0.3,0.4,0.5,0.6,0.7,0.8,0.9,1], "labelExpr": "datum.value==1?'10⁰':datum.value==0.1?'10⁻¹':datum.value==0.01?'10⁻²':datum.value==0.001?'10⁻³':''", "title": "Upper limit on λ″₃₂₃", "grid": true, "gridColor": {"condition": {"test": "datum.value==1||datum.value==0.1||datum.value==0.01||datum.value==0.001", "value": "#999999"}, "value": "#d6d6d6"}, "tickSize": -4, "labelPadding": 18, "titlePadding": 10}},
    "order": {"value": null}}},
  {"transform": [{"filter": "indexof(datum.s,'ol')==0"}], "mark": {"type": "line", "stroke": "#e99c26", "strokeWidth": 2.5, "clip": true},
   "encoding": {"x": {"field": "m", "type": "quantitative", "axis": null}, "y": {"field": "l", "type": "quantitative", "axis": null}, "detail": {"field": "s"}, "order": {"value": null}}},
  {"transform": [{"filter": "datum.s=='ra'"}], "mark": {"type": "line", "fill": "#ea6a44", "fillOpacity": 0.5, "stroke": "#ee6035", "strokeWidth": 2.5, "clip": true},
   "encoding": {"x": {"field": "m", "type": "quantitative", "axis": null}, "y": {"field": "l", "type": "quantitative", "axis": null}, "order": {"value": null}}},
  {"transform": [{"filter": "datum.s=='rb'"}], "mark": {"type": "line", "fill": "#ef7452", "fillOpacity": 0.4, "stroke": "#ee6035", "strokeWidth": 2.5, "clip": true},
   "encoding": {"x": {"field": "m", "type": "quantitative", "axis": null}, "y": {"field": "l", "type": "quantitative", "axis": null}, "order": {"value": null}}},
  {"transform": [{"filter": "datum.s=='rr'"}], "mark": {"type": "line", "fill": "#e8903a", "fillOpacity": 0.35, "stroke": "#ec8a3a", "strokeWidth": 2.5, "clip": true},
   "encoding": {"x": {"field": "m", "type": "quantitative", "axis": null}, "y": {"field": "l", "type": "quantitative", "axis": null}, "order": {"value": null}}},
  {"transform": [{"filter": "indexof(datum.s,'gd')==0"}], "mark": {"type": "line", "stroke": "#555555", "strokeWidth": 0.9, "strokeDash": [4, 3], "clip": true},
   "encoding": {"x": {"field": "m", "type": "quantitative", "axis": null}, "y": {"field": "l", "type": "quantitative", "axis": null}, "detail": {"field": "s"}, "order": {"value": null}}},
  {"transform": [{"filter": "indexof(datum.s,'gs')==0"}], "mark": {"type": "line", "stroke": "#555555", "strokeWidth": 0.9, "clip": true},
   "encoding": {"x": {"field": "m", "type": "quantitative", "axis": {"orient": "top", "values": [200,250,300,350,400,450,500,550,600,650,700,750,800,850,900,950,1000], "labels": false, "title": null, "grid": false, "tickSize": -5}},
    "y": {"field": "l", "type": "quantitative", "axis": {"orient": "right", "values": [0.0003,0.0004,0.0005,0.0006,0.0007,0.0008,0.0009,0.001,0.002,0.003,0.004,0.005,0.006,0.007,0.008,0.009,0.01,0.02,0.03,0.04,0.05,0.06,0.07,0.08,0.09,0.1,0.2,0.3,0.4,0.5,0.6,0.7,0.8,0.9,1], "labels": false, "title": null, "grid": false, "tickSize": -4}},
    "detail": {"field": "s"}, "order": {"value": null}}}
 ]},
{"title": "Higgsino−like LSP, m(χ̃₁⁰)=200 GeV", "width": 269, "height": 271,
 "transform": [{"filter": "datum.p==4"}],
 "resolve": {"axis": {"x": "independent", "y": "independent"}},
 "layer": [
  {"transform": [{"filter": "datum.s=='of'"}], "mark": {"type": "line", "fill": "#e9a53a", "fillOpacity": 0.45, "strokeOpacity": 0, "clip": true},
   "encoding": {"x": {"field": "m", "type": "quantitative", "scale": {"domain": [200, 1000], "nice": false}, "axis": {"orient": "bottom", "values": [200,250,300,350,400,450,500,550,600,650,700,750,800,850,900,950,1000], "format": "d", "labelExpr": "datum.value%200==0?datum.label:''", "title": "Stop mass [GeV]", "grid": true, "gridColor": "#cccccc", "gridOpacity": {"condition": {"test": "datum.value==400||datum.value==600||datum.value==800", "value": 1}, "value": 0}, "tickSize": -5, "labelPadding": 13, "titlePadding": 8}},
    "y": {"field": "l", "type": "quantitative", "scale": {"type": "log", "domain": [0.01, 1], "nice": false}, "axis": {"orient": "left", "values": [0.01,0.02,0.03,0.04,0.05,0.06,0.07,0.08,0.09,0.1,0.2,0.3,0.4,0.5,0.6,0.7,0.8,0.9,1], "labelExpr": "datum.value==1?'10⁰':datum.value==0.1?'10⁻¹':datum.value==0.01?'10⁻²':''", "title": "Upper limit on λ″₃₁₂", "grid": true, "gridColor": {"condition": {"test": "datum.value==1||datum.value==0.1||datum.value==0.01", "value": "#999999"}, "value": "#d6d6d6"}, "tickSize": -4, "labelPadding": 18, "titlePadding": 10}},
    "order": {"value": null}}},
  {"transform": [{"filter": "indexof(datum.s,'ol')==0"}], "mark": {"type": "line", "stroke": "#e99c26", "strokeWidth": 2.5, "clip": true},
   "encoding": {"x": {"field": "m", "type": "quantitative", "axis": null}, "y": {"field": "l", "type": "quantitative", "axis": null}, "detail": {"field": "s"}, "order": {"value": null}}},
  {"transform": [{"filter": "indexof(datum.s,'gd')==0"}], "mark": {"type": "line", "stroke": "#555555", "strokeWidth": 0.9, "strokeDash": [4, 3], "clip": true},
   "encoding": {"x": {"field": "m", "type": "quantitative", "axis": null}, "y": {"field": "l", "type": "quantitative", "axis": null}, "detail": {"field": "s"}, "order": {"value": null}}},
  {"transform": [{"filter": "indexof(datum.s,'gs')==0"}], "mark": {"type": "line", "stroke": "#555555", "strokeWidth": 0.9, "clip": true},
   "encoding": {"x": {"field": "m", "type": "quantitative", "axis": {"orient": "top", "values": [200,250,300,350,400,450,500,550,600,650,700,750,800,850,900,950,1000], "labels": false, "title": null, "grid": false, "tickSize": -5}},
    "y": {"field": "l", "type": "quantitative", "axis": {"orient": "right", "values": [0.01,0.02,0.03,0.04,0.05,0.06,0.07,0.08,0.09,0.1,0.2,0.3,0.4,0.5,0.6,0.7,0.8,0.9,1], "labels": false, "title": null, "grid": false, "tickSize": -4}},
    "detail": {"field": "s"}, "order": {"value": null}}}
 ]},
{"title": "Higgsino−like LSP, m(χ̃₁⁰)=200 GeV", "width": 269, "height": 271,
 "transform": [{"filter": "datum.p==5"}],
 "resolve": {"axis": {"x": "independent", "y": "independent"}},
 "layer": [
  {"transform": [{"filter": "datum.s=='of'"}], "mark": {"type": "line", "fill": "#e9a53a", "fillOpacity": 0.45, "strokeOpacity": 0, "clip": true},
   "encoding": {"x": {"field": "m", "type": "quantitative", "scale": {"domain": [200, 1000], "nice": false}, "axis": {"orient": "bottom", "values": [200,250,300,350,400,450,500,550,600,650,700,750,800,850,900,950,1000], "format": "d", "labelExpr": "datum.value%200==0?datum.label:''", "title": "Stop mass [GeV]", "grid": true, "gridColor": "#cccccc", "gridOpacity": {"condition": {"test": "datum.value==400||datum.value==600||datum.value==800", "value": 1}, "value": 0}, "tickSize": -5, "labelPadding": 13, "titlePadding": 8}},
    "y": {"field": "l", "type": "quantitative", "scale": {"type": "log", "domain": [0.01, 1], "nice": false}, "axis": {"orient": "left", "values": [0.01,0.02,0.03,0.04,0.05,0.06,0.07,0.08,0.09,0.1,0.2,0.3,0.4,0.5,0.6,0.7,0.8,0.9,1], "labelExpr": "datum.value==1?'10⁰':datum.value==0.1?'10⁻¹':datum.value==0.01?'10⁻²':''", "title": "Upper limit on λ″₃₁₃", "grid": true, "gridColor": {"condition": {"test": "datum.value==1||datum.value==0.1||datum.value==0.01", "value": "#999999"}, "value": "#d6d6d6"}, "tickSize": -4, "labelPadding": 18, "titlePadding": 10}},
    "order": {"value": null}}},
  {"transform": [{"filter": "indexof(datum.s,'ol')==0"}], "mark": {"type": "line", "stroke": "#e99c26", "strokeWidth": 2.5, "clip": true},
   "encoding": {"x": {"field": "m", "type": "quantitative", "axis": null}, "y": {"field": "l", "type": "quantitative", "axis": null}, "detail": {"field": "s"}, "order": {"value": null}}},
  {"transform": [{"filter": "indexof(datum.s,'gd')==0"}], "mark": {"type": "line", "stroke": "#555555", "strokeWidth": 0.9, "strokeDash": [4, 3], "clip": true},
   "encoding": {"x": {"field": "m", "type": "quantitative", "axis": null}, "y": {"field": "l", "type": "quantitative", "axis": null}, "detail": {"field": "s"}, "order": {"value": null}}},
  {"transform": [{"filter": "indexof(datum.s,'gs')==0"}], "mark": {"type": "line", "stroke": "#555555", "strokeWidth": 0.9, "clip": true},
   "encoding": {"x": {"field": "m", "type": "quantitative", "axis": {"orient": "top", "values": [200,250,300,350,400,450,500,550,600,650,700,750,800,850,900,950,1000], "labels": false, "title": null, "grid": false, "tickSize": -5}},
    "y": {"field": "l", "type": "quantitative", "axis": {"orient": "right", "values": [0.01,0.02,0.03,0.04,0.05,0.06,0.07,0.08,0.09,0.1,0.2,0.3,0.4,0.5,0.6,0.7,0.8,0.9,1], "labels": false, "title": null, "grid": false, "tickSize": -4}},
    "detail": {"field": "s"}, "order": {"value": null}}}
 ]},
{"title": "Higgsino−like LSP, m(χ̃₁⁰)=200 GeV", "width": 269, "height": 271,
 "transform": [{"filter": "datum.p==6"}],
 "resolve": {"axis": {"x": "independent", "y": "independent"}},
 "layer": [
  {"transform": [{"filter": "datum.s=='of'"}], "mark": {"type": "line", "fill": "#e9a53a", "fillOpacity": 0.45, "strokeOpacity": 0, "clip": true},
   "encoding": {"x": {"field": "m", "type": "quantitative", "scale": {"domain": [200, 1000], "nice": false}, "axis": {"orient": "bottom", "values": [200,250,300,350,400,450,500,550,600,650,700,750,800,850,900,950,1000], "format": "d", "labelExpr": "datum.value%200==0?datum.label:''", "title": "Stop mass [GeV]", "grid": true, "gridColor": "#cccccc", "gridOpacity": {"condition": {"test": "datum.value==400||datum.value==600||datum.value==800", "value": 1}, "value": 0}, "tickSize": -5, "labelPadding": 13, "titlePadding": 8}},
    "y": {"field": "l", "type": "quantitative", "scale": {"type": "log", "domain": [0.01, 1], "nice": false}, "axis": {"orient": "left", "values": [0.01,0.02,0.03,0.04,0.05,0.06,0.07,0.08,0.09,0.1,0.2,0.3,0.4,0.5,0.6,0.7,0.8,0.9,1], "labelExpr": "datum.value==1?'10⁰':datum.value==0.1?'10⁻¹':datum.value==0.01?'10⁻²':''", "title": "Upper limit on λ″₃₂₃", "grid": true, "gridColor": {"condition": {"test": "datum.value==1||datum.value==0.1||datum.value==0.01", "value": "#999999"}, "value": "#d6d6d6"}, "tickSize": -4, "labelPadding": 18, "titlePadding": 10}},
    "order": {"value": null}}},
  {"transform": [{"filter": "indexof(datum.s,'ol')==0"}], "mark": {"type": "line", "stroke": "#e99c26", "strokeWidth": 2.5, "clip": true},
   "encoding": {"x": {"field": "m", "type": "quantitative", "axis": null}, "y": {"field": "l", "type": "quantitative", "axis": null}, "detail": {"field": "s"}, "order": {"value": null}}},
  {"transform": [{"filter": "indexof(datum.s,'gd')==0"}], "mark": {"type": "line", "stroke": "#555555", "strokeWidth": 0.9, "strokeDash": [4, 3], "clip": true},
   "encoding": {"x": {"field": "m", "type": "quantitative", "axis": null}, "y": {"field": "l", "type": "quantitative", "axis": null}, "detail": {"field": "s"}, "order": {"value": null}}},
  {"transform": [{"filter": "indexof(datum.s,'gs')==0"}], "mark": {"type": "line", "stroke": "#555555", "strokeWidth": 0.9, "clip": true},
   "encoding": {"x": {"field": "m", "type": "quantitative", "axis": {"orient": "top", "values": [200,250,300,350,400,450,500,550,600,650,700,750,800,850,900,950,1000], "labels": false, "title": null, "grid": false, "tickSize": -5}},
    "y": {"field": "l", "type": "quantitative", "axis": {"orient": "right", "values": [0.01,0.02,0.03,0.04,0.05,0.06,0.07,0.08,0.09,0.1,0.2,0.3,0.4,0.5,0.6,0.7,0.8,0.9,1], "labels": false, "title": null, "grid": false, "tickSize": -4}},
    "detail": {"field": "s"}, "order": {"value": null}}}
 ]}
]
}
